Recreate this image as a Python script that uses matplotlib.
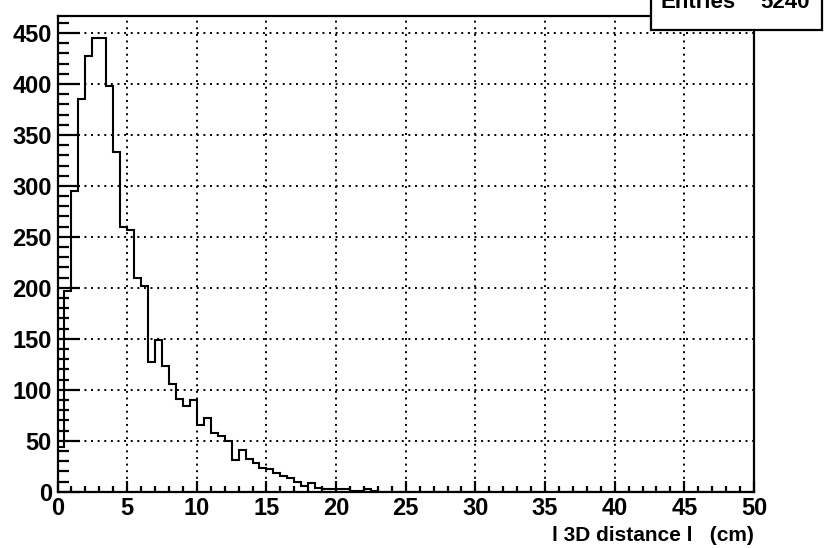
import numpy as np
import matplotlib.pyplot as plt
from matplotlib.patches import Rectangle
from matplotlib.ticker import MultipleLocator

plt.rcParams['font.family'] = ['Liberation Sans', 'DejaVu Sans']
plt.rcParams['font.weight'] = 'bold'

# histogram: 100 bins of 0.5 cm from 0 to 50
edges = np.linspace(0, 50, 101)
counts = [44, 197, 295, 385, 427, 445, 445, 398, 333, 260,
          257, 210, 202, 127, 149, 123, 106, 91, 84, 90,
          65, 72, 58, 55, 50, 31, 41, 32, 28, 23,
          22, 18, 15, 13, 10, 6, 9, 4, 3, 3,
          3, 3, 1, 1, 3, 1, 0, 0, 0, 0]
counts = counts + [0] * (100 - len(counts))
entries_label = 'Entries'
entries_value = '5240'
xlabel = 'l 3D distance l   (cm)'

fig = plt.figure(figsize=(8.25, 5.48), dpi=100)
ax = fig.add_axes([0.0697, 0.1027, 0.9139 - 0.0697, 0.9714 - 0.1027])

ax.stairs(counts, edges, color='black', linewidth=1.5, baseline=None)

ax.set_xlim(0, 50)
ax.set_ylim(0, 467)
ax.xaxis.set_major_locator(MultipleLocator(5))
ax.xaxis.set_minor_locator(MultipleLocator(1))
ax.yaxis.set_major_locator(MultipleLocator(50))
ax.yaxis.set_minor_locator(MultipleLocator(10))

ax.grid(True, which='major', color='black', linestyle=(0, (1, 2.4)), linewidth=1.4)
ax.tick_params(axis='x', which='major', direction='in', length=7.7, width=1.6,
               labelsize=17, pad=4)
ax.tick_params(axis='x', which='minor', direction='in', length=4.1, width=1.6)
ax.tick_params(axis='y', which='major', direction='in', length=16, width=1.6,
               labelsize=17, pad=4)
ax.tick_params(axis='y', which='minor', direction='in', length=8, width=1.6)
for lab in ax.get_xticklabels() + ax.get_yticklabels():
    lab.set_fontweight('bold')
for s in ax.spines.values():
    s.set_linewidth(1.6)

ax.set_xlabel(xlabel, fontsize=15, fontweight='bold', loc='right', labelpad=4)

# stats box, cut by the top of the picture
fig.patches.append(Rectangle((0.7887, 0.945), 0.2073, 0.1, transform=fig.transFigure,
                             facecolor='white', edgecolor='black', linewidth=1.6,
                             clip_on=False, zorder=5))
fig.text(0.80, 0.985, entries_label, fontsize=16, fontweight='bold', va='baseline',
         ha='left', zorder=6)
fig.text(0.982, 0.985, entries_value, fontsize=16, fontweight='bold', va='baseline',
         ha='right', zorder=6)

fig.savefig('out.png', dpi=100)
